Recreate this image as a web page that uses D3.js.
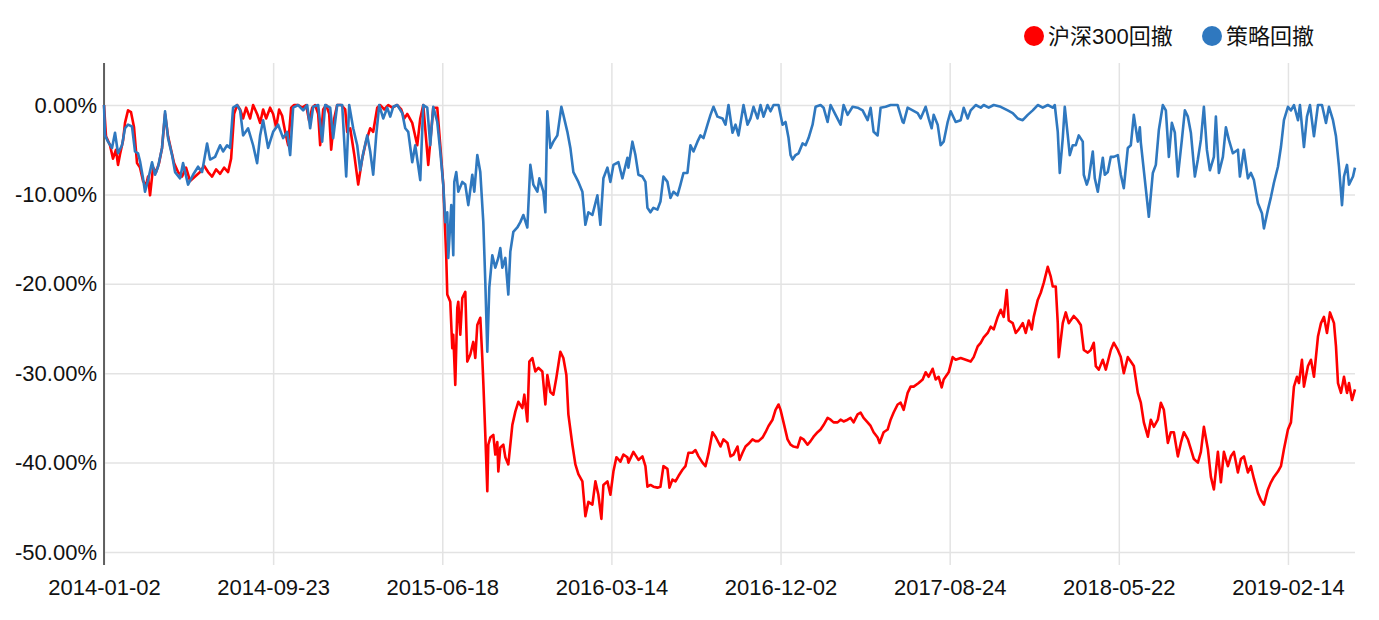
<!DOCTYPE html>
<html>
<head>
<meta charset="utf-8">
<script src="https://cdn.jsdelivr.net/npm/d3@7"></script>
<style>
  body { margin: 0; background: #fff; }
  text { font-family: "Liberation Sans", Arial, "Noto Sans CJK SC", sans-serif; }
</style>
</head>
<body>
<div id="chart"></div>
<script>
// trading-day index of each x label
var tickDays = [0, 169, 338, 507, 676, 845, 1014, 1183];
var tickLabels = ["2014-01-02", "2014-09-23", "2015-06-18", "2016-03-14", "2016-12-02", "2017-08-24", "2018-05-22", "2019-02-14"];
var lastDay = 1250;
var yTicks = [0, -10, -20, -30, -40, -50];
var seriesNames = ["沪深300回撤", "策略回撤"];
var seriesColors = ["#ff0000", "#2f78bf"];

// [trading day, drawdown %]
var hs300 = [[0,0],[2,-3.5],[6,-4.5],[9,-6.0],[12,-5.0],[14,-6.7],[16,-5.5],[19,-4.0],[21,-2.0],[24,-0.6],[27,-0.8],[30,-2.5],[33,-6.5],[36,-7.0],[39,-8.5],[42,-9.0],[44,-8.0],[46,-10.1],[49,-7.0],[52,-7.5],[55,-6.5],[58,-4.8],[61,-1.0],[64,-3.5],[67,-5.0],[70,-6.5],[74,-7.5],[78,-8.0],[82,-7.0],[86,-8.5],[91,-8.0],[96,-7.5],[100,-6.8],[104,-7.5],[108,-8.0],[112,-7.2],[116,-7.7],[120,-7.0],[124,-7.5],[127,-6.0],[130,-1.0],[133,0],[136,-0.5],[139,-1.5],[142,-0.3],[146,-1.5],[149,0],[153,-1.0],[156,-2.0],[159,-0.5],[162,-1.5],[166,-0.3],[169,-1.0],[172,-2.5],[175,-0.5],[178,-1.2],[181,-3.0],[184,-4.5],[187,-0.3],[190,0],[194,0],[198,-0.3],[202,0],[205,-1.8],[208,-0.3],[211,0],[214,-1.0],[216,-4.5],[219,-0.5],[222,0],[225,-1.0],[227,-5.0],[230,-1.5],[233,0],[237,0],[241,-0.5],[243,-3.0],[246,-2.6],[250,-5.5],[254,-8.9],[258,-6.0],[262,-4.0],[266,-2.6],[269,-3.0],[273,-0.3],[276,0],[280,-0.5],[284,0],[288,-0.3],[293,0],[297,-0.5],[300,-1.5],[303,-1.0],[308,-2.0],[311,-3.5],[313,-4.5],[316,-1.5],[319,0],[324,-6.7],[329,-0.3],[333,-0.3],[336,-4.5],[339,-8.9],[342,-17.1],[343,-21.2],[346,-22.0],[348,-27.2],[349,-25.7],[351,-31.3],[353,-22.7],[354,-22.0],[356,-25.7],[358,-21.6],[361,-20.9],[363,-28.7],[366,-27.9],[369,-26.5],[371,-28.3],[373,-24.6],[376,-23.8],[378,-28.3],[379,-31.0],[381,-36.9],[383,-43.2],[384,-38.0],[386,-37.2],[389,-36.9],[391,-39.1],[393,-37.7],[394,-41.0],[396,-38.3],[399,-38.0],[401,-39.4],[404,-40.2],[408,-35.8],[411,-34.3],[414,-33.2],[418,-33.9],[420,-32.4],[423,-35.4],[425,-28.7],[428,-28.3],[431,-29.8],[434,-29.4],[438,-29.8],[441,-33.5],[443,-30.2],[446,-32.1],[449,-32.4],[452,-30.5],[456,-27.6],[459,-28.3],[462,-30.2],[464,-34.6],[468,-38.0],[471,-40.2],[474,-41.3],[478,-42.1],[481,-46.0],[484,-44.4],[488,-44.7],[491,-42.1],[494,-43.6],[497,-46.3],[499,-42.5],[503,-42.1],[506,-43.6],[509,-41.0],[512,-39.4],[516,-39.9],[519,-39.1],[523,-39.4],[524,-40.0],[529,-38.8],[534,-39.7],[538,-39.3],[541,-40.4],[543,-42.7],[546,-42.5],[549,-42.7],[553,-42.8],[556,-42.7],[559,-40.4],[563,-40.7],[565,-42.8],[568,-41.9],[571,-42.1],[574,-41.5],[578,-40.8],[581,-40.4],[584,-38.9],[588,-38.9],[591,-38.6],[594,-39.3],[598,-40.0],[601,-40.4],[604,-39.0],[608,-36.6],[611,-37.1],[616,-38.2],[619,-37.4],[623,-37.8],[626,-39.3],[629,-39.1],[633,-38.2],[635,-39.7],[638,-38.9],[641,-38.2],[644,-37.9],[648,-37.4],[651,-37.6],[654,-37.6],[658,-37.2],[661,-36.6],[664,-35.9],[668,-35.2],[671,-34.1],[674,-33.5],[676,-34.1],[679,-35.5],[683,-37.4],[686,-38.0],[689,-38.2],[693,-38.3],[696,-37.2],[699,-37.4],[703,-38.0],[706,-37.6],[709,-37.1],[713,-36.6],[716,-36.3],[719,-35.8],[723,-35.0],[726,-35.2],[729,-35.5],[733,-35.5],[736,-35.2],[739,-35.4],[743,-35.2],[746,-35.0],[749,-35.5],[753,-34.6],[756,-34.4],[759,-35.0],[763,-35.5],[766,-35.9],[769,-36.6],[773,-37.2],[775,-37.8],[779,-36.6],[783,-36.3],[786,-35.2],[789,-34.4],[793,-33.5],[796,-33.3],[799,-34.1],[803,-32.2],[806,-31.5],[809,-31.5],[814,-31.1],[818,-30.7],[821,-29.9],[824,-30.4],[828,-29.5],[831,-30.7],[834,-30.4],[837,-31.6],[839,-30.7],[844,-29.9],[848,-28.2],[851,-28.5],[856,-28.3],[861,-28.5],[866,-28.7],[869,-28.2],[873,-27.0],[876,-26.6],[879,-26.0],[883,-25.5],[886,-24.8],[889,-25.1],[893,-23.7],[896,-22.9],[899,-23.7],[902,-20.7],[904,-24.1],[908,-24.4],[911,-25.5],[914,-25.1],[918,-24.4],[921,-25.5],[924,-24.1],[927,-25.1],[929,-23.7],[933,-21.8],[936,-21.0],[939,-19.9],[943,-18.1],[946,-19.2],[948,-20.3],[951,-20.3],[953,-24.4],[954,-28.2],[958,-24.4],[961,-23.2],[964,-24.4],[969,-23.6],[973,-24.1],[976,-24.6],[979,-27.4],[983,-27.7],[986,-27.4],[989,-26.6],[991,-29.2],[994,-29.6],[998,-28.5],[1001,-29.6],[1006,-27.4],[1009,-26.6],[1013,-27.4],[1016,-28.2],[1019,-30.0],[1023,-28.2],[1026,-28.7],[1029,-29.2],[1033,-32.2],[1036,-33.3],[1039,-35.5],[1043,-37.1],[1046,-35.2],[1049,-36.0],[1053,-35.2],[1056,-33.3],[1059,-34.1],[1063,-37.8],[1066,-36.6],[1069,-36.6],[1073,-39.3],[1076,-37.8],[1079,-36.6],[1083,-37.4],[1086,-38.5],[1089,-39.6],[1093,-40.0],[1096,-38.8],[1099,-36.0],[1103,-38.5],[1106,-41.6],[1109,-43.0],[1113,-38.8],[1116,-42.2],[1119,-38.8],[1123,-40.4],[1126,-39.3],[1129,-38.8],[1133,-41.1],[1136,-39.6],[1139,-39.3],[1143,-41.1],[1146,-40.4],[1149,-41.8],[1153,-43.4],[1156,-44.2],[1159,-44.7],[1163,-43.0],[1166,-42.2],[1169,-41.6],[1173,-41.0],[1176,-40.4],[1179,-38.5],[1183,-36.3],[1186,-35.5],[1189,-31.5],[1192,-30.4],[1194,-31.1],[1197,-28.5],[1199,-31.5],[1203,-29.2],[1206,-28.5],[1209,-30.4],[1213,-25.9],[1216,-24.4],[1219,-23.7],[1222,-25.5],[1225,-23.2],[1229,-24.4],[1231,-27.0],[1233,-31.1],[1236,-32.2],[1239,-30.4],[1242,-32.2],[1244,-31.1],[1247,-33.0],[1250,-31.8]];

var strategy = [[0,0],[1,-3.4],[4,-4.1],[8,-4.8],[11,-3.1],[14,-5.4],[18,-4.5],[21,-2.6],[24,-2.2],[28,-2.4],[31,-5.2],[34,-5.4],[36,-6.3],[39,-8.2],[41,-9.7],[44,-8.4],[48,-6.4],[51,-7.8],[54,-6.9],[58,-4.8],[61,-0.7],[64,-3.7],[68,-5.6],[71,-7.5],[76,-8.2],[79,-6.5],[84,-8.9],[89,-7.8],[94,-6.9],[98,-7.5],[103,-4.3],[106,-6.1],[111,-5.8],[116,-4.5],[119,-5.2],[123,-4.5],[126,-4.8],[129,-0.3],[133,0],[136,-0.6],[139,-3.4],[144,-2.6],[149,-4.5],[153,-6.5],[156,-3.4],[159,-1.7],[164,-4.8],[169,-3.0],[174,-2.2],[179,-3.7],[183,-3.0],[186,-5.6],[189,-0.3],[194,0],[199,-0.6],[203,0],[206,-2.6],[209,-0.2],[214,0],[218,-4.1],[221,0],[226,-0.3],[229,-3.7],[233,0],[238,0],[242,-8.0],[245,0],[249,-2.6],[253,-4.5],[256,-7.3],[259,-5.4],[263,-3.4],[266,-5.2],[269,-7.8],[272,-3.4],[275,0],[279,-1.5],[283,-0.3],[286,-1.3],[289,-0.2],[293,0],[298,-0.9],[301,-2.6],[304,-3.0],[308,-6.4],[311,-4.5],[316,-8.4],[319,0],[323,-0.3],[326,-4.5],[329,-0.2],[333,-1.9],[336,-5.2],[339,-8.9],[341,-13.1],[343,-12.0],[344,-17.1],[347,-11.2],[349,-16.8],[350,-8.6],[352,-7.5],[354,-9.7],[358,-8.6],[361,-8.9],[364,-11.2],[368,-7.8],[370,-9.7],[373,-5.6],[376,-7.5],[379,-13.1],[381,-19.8],[383,-27.6],[385,-20.4],[388,-16.8],[391,-18.2],[394,-17.1],[396,-16.0],[398,-18.2],[401,-17.1],[404,-21.2],[406,-16.4],[409,-14.2],[413,-13.7],[416,-13.1],[419,-12.3],[423,-13.7],[426,-6.7],[429,-8.9],[433,-9.7],[435,-8.2],[439,-9.7],[441,-12.0],[443,-0.7],[446,-4.8],[449,-4.1],[453,-3.4],[457,-0.2],[459,-1.1],[463,-3.0],[466,-4.8],[469,-7.5],[474,-8.6],[478,-9.7],[481,-13.4],[484,-12.0],[488,-12.3],[493,-10.1],[496,-13.4],[499,-8.2],[503,-7.0],[506,-8.6],[509,-6.7],[514,-6.4],[518,-8.2],[523,-5.9],[524,-7.0],[528,-4.1],[531,-5.6],[534,-7.8],[538,-8.0],[541,-8.6],[543,-11.5],[546,-12.0],[549,-11.5],[553,-11.7],[556,-10.8],[559,-8.0],[563,-8.6],[566,-10.4],[569,-9.7],[573,-10.1],[576,-8.9],[579,-7.6],[583,-7.6],[586,-4.5],[589,-5.2],[593,-4.1],[596,-3.4],[599,-3.7],[603,-2.2],[606,-1.1],[609,-0.2],[613,-1.3],[618,-1.5],[621,-2.2],[624,0],[628,-3.1],[631,-2.2],[634,-3.4],[639,0],[643,-2.2],[646,-1.5],[649,-0.2],[653,-1.5],[656,0],[659,-1.3],[663,0],[666,-0.7],[669,0],[674,0],[678,-2.2],[681,-1.9],[684,-3.7],[686,-5.6],[688,-6.1],[691,-5.6],[694,-5.4],[698,-4.3],[701,-4.5],[704,-3.7],[708,-2.2],[711,-0.2],[716,0],[719,-0.3],[723,-1.9],[726,0],[731,-1.1],[736,-2.2],[739,0],[743,-1.1],[748,-0.2],[753,-0.3],[758,-0.6],[763,-1.7],[766,-0.3],[769,-3.0],[773,-3.4],[776,-0.3],[781,-0.2],[786,0],[793,0],[798,-1.9],[799,-2.0],[803,-0.3],[808,-0.6],[813,-0.9],[816,-1.5],[821,-0.2],[824,-1.5],[827,-2.6],[829,-1.1],[833,-2.2],[836,-4.5],[839,-4.1],[843,-1.9],[846,-0.7],[851,-1.9],[856,-1.7],[859,-0.3],[863,-1.5],[866,-0.6],[871,0],[876,-0.3],[879,0],[884,-0.3],[889,0],[896,-0.2],[903,-0.6],[908,-0.9],[913,-1.5],[918,-1.7],[923,-1.1],[928,-0.6],[933,0],[938,-0.3],[943,0],[948,-0.3],[950,0],[953,-3.0],[955,-7.6],[958,-3.7],[960,-0.2],[963,-3.4],[965,-5.6],[968,-4.5],[971,-4.5],[974,-3.4],[978,-4.1],[979,-7.8],[982,-8.9],[984,-8.2],[988,-5.2],[990,-8.2],[993,-9.7],[995,-8.2],[998,-5.9],[1000,-7.8],[1003,-7.5],[1006,-5.8],[1009,-5.8],[1013,-5.6],[1016,-7.8],[1019,-9.3],[1023,-4.8],[1026,-4.5],[1029,-1.1],[1033,-4.1],[1035,-2.5],[1036,-4.2],[1039,-7.3],[1044,-12.5],[1048,-7.6],[1051,-6.7],[1054,-2.8],[1058,0],[1061,-0.6],[1064,-5.8],[1067,-2.0],[1070,-3.1],[1073,-8.0],[1077,-3.9],[1080,-0.6],[1083,-1.3],[1086,-3.1],[1090,-8.0],[1093,-6.1],[1096,-3.9],[1099,-0.2],[1102,-5.0],[1105,-7.3],[1109,-5.8],[1111,-1.3],[1114,-7.6],[1118,-5.8],[1121,-2.5],[1124,-3.9],[1128,-5.4],[1133,-5.0],[1135,-8.0],[1139,-5.0],[1143,-8.2],[1146,-7.6],[1149,-8.4],[1153,-11.0],[1157,-12.1],[1159,-13.8],[1163,-11.7],[1166,-10.3],[1169,-8.7],[1173,-6.9],[1176,-4.7],[1179,-1.7],[1183,-0.2],[1186,-0.6],[1189,0],[1193,-1.7],[1195,0],[1199,-4.7],[1202,-1.3],[1205,0],[1209,-3.5],[1213,0],[1217,0],[1221,-2.0],[1224,-0.2],[1228,-1.7],[1231,-3.5],[1234,-6.9],[1237,-11.2],[1239,-8.0],[1242,-6.7],[1244,-8.9],[1248,-8.0],[1250,-7.0]];

var W = 1379, H = 620;
var margin = {top: 63, right: 24, bottom: 68, left: 104},
    width = W - margin.left - margin.right,
    height = H - margin.top - margin.bottom;

var svg = d3.select("#chart").append("svg")
    .attr("width", W)
    .attr("height", H)
  .append("g")
    .attr("transform", "translate(" + margin.left + "," + margin.top + ")");

var x = d3.scaleLinear().domain([0, lastDay]).range([0, width]);
var y = d3.scaleLinear().domain([-50, 4.7]).range([height, 0]);

// horizontal grid + y labels
var yAxis = svg.append("g")
    .call(d3.axisLeft(y).tickValues(yTicks).tickSize(-width).tickPadding(7)
        .tickFormat(function(d) { return d.toFixed(2) + "%"; }));
yAxis.select(".domain").remove();
yAxis.selectAll("line").attr("stroke", "#e3e3e3").attr("stroke-width", 1.5);
yAxis.selectAll("text").attr("fill", "#111").style("font-size", "22px");

// vertical grid + x labels
var xAxis = svg.append("g")
    .attr("transform", "translate(0," + (height + 13) + ")")
    .call(d3.axisBottom(x).tickValues(tickDays).tickSize(-(height + 13)).tickPadding(14)
        .tickFormat(function(d, i) { return tickLabels[i]; }));
xAxis.select(".domain").remove();
xAxis.selectAll("line").attr("stroke", "#e3e3e3").attr("stroke-width", 1.5);
xAxis.selectAll("text").attr("fill", "#111").style("font-size", "22px");

// y axis line
svg.append("line")
    .attr("x1", 0).attr("x2", 0)
    .attr("y1", 0).attr("y2", height + 13)
    .attr("stroke", "#333").attr("stroke-width", 1.5);

var line = d3.line()
    .x(function(d) { return x(d[0]); })
    .y(function(d) { return y(d[1]); });

[hs300, strategy].forEach(function(s, i) {
    svg.append("path")
        .datum(s)
        .attr("d", line)
        .attr("fill", "none")
        .attr("stroke", seriesColors[i])
        .attr("stroke-width", 2.6)
        .attr("stroke-linejoin", "round");
});

// legend
var legend = d3.select("svg").append("g");
var legendX = [1034, 1212];
seriesNames.forEach(function(n, i) {
    legend.append("circle")
        .attr("cx", legendX[i]).attr("cy", 36).attr("r", 10)
        .attr("fill", seriesColors[i]);
    legend.append("text")
        .attr("x", legendX[i] + 14).attr("y", 36)
        .attr("dy", "0.35em")
        .style("font-size", "22px")
        .attr("fill", "#111")
        .text(n);
});
</script>
</body>
</html>
